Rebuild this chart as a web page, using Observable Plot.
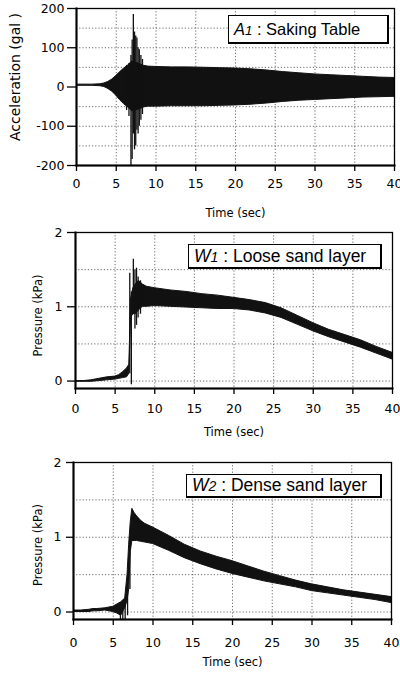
<!DOCTYPE html>
<html>
<head>
<meta charset="utf-8">
<script src="https://cdn.jsdelivr.net/npm/d3@7"></script>
<script src="https://cdn.jsdelivr.net/npm/@observablehq/plot@0.6"></script>
<style>
  html, body { margin: 0; padding: 0; background: #fff; }
  #root { width: 400px; }
  .panel { position: relative; width: 400px; }
  .panel svg { display: block; }
  .legend {
    position: absolute; box-sizing: border-box; background: #fff;
    border-style: solid; border-color: #000; border-width: 1.5px 2.5px 2.5px 1.5px;
    font-family: "Liberation Sans", Arial, sans-serif; font-size: 17.5px; color: #000;
    display: flex; align-items: center; padding-left: 5px; white-space: nowrap;
  }
  .legend i { font-style: italic; }
  .legend small { font-size: 0.8em; }
</style>
</head>
<body>
<div id="root"></div>
<script>
// ---------- shared axis values ----------
const xTicks = [0, 5, 10, 15, 20, 25, 30, 35, 40];
const xGrid = [5, 10, 15, 20, 25, 30, 35];

// ---------- A1 : shaking table acceleration (gal) ----------
const accTicks = [-200, -100, 0, 100, 200];
const accGrid = [-150, -100, -50, 50, 100, 150];
const accTime  = [0, 1, 2, 3, 3.5, 4, 4.5, 5, 5.5, 6, 6.5, 7, 7.5, 8, 8.5, 9, 10, 12, 14, 16, 18, 20, 22, 24, 26, 28, 30, 32, 34, 36, 38, 40];
const accUpper = [6, 6, 6, 7, 9, 13, 19, 28, 38, 47, 55, 65, 62, 58, 54, 52, 51, 50, 50, 49, 48, 47, 45, 42, 38, 35, 32, 30, 28, 26, 24, 23];
const accLower = [3, 3, 3, 2, 0, -5, -12, -22, -34, -44, -52, -62, -60, -56, -52, -50, -50, -49, -49, -49, -48, -47, -45, -42, -38, -35, -33, -31, -29, -27, -26, -25];
const accSpikeT  = [6.3, 6.6, 6.85, 7.0, 7.15, 7.3, 7.45, 7.6, 7.75, 7.9, 8.1, 8.3];
const accSpikeLo = [-60, -75, -200, -185, -120, -160, -150, -110, -120, -100, -85, -70];
const accSpikeHi = [55, 60, 80, 120, 185, 140, 130, 125, 100, 95, 80, 70];

// ---------- W1 : loose sand layer pressure (kPa) ----------
const presTicks = [0, 1, 2];
const presGrid = [0, 0.5, 1, 1.5];
const w1Time  = [0, 1, 2, 3, 4, 5, 5.5, 6, 6.5, 6.8, 7.0, 7.3, 7.6, 8, 8.5, 9, 10, 12, 14, 16, 18, 20, 22, 24, 26, 28, 30, 32, 34, 36, 38, 40];
const w1Upper = [0.0, 0.0, 0.01, 0.03, 0.05, 0.06, 0.08, 0.12, 0.17, 0.22, 1.1, 1.25, 1.3, 1.35, 1.3, 1.27, 1.25, 1.22, 1.2, 1.17, 1.15, 1.12, 1.09, 1.05, 0.98, 0.88, 0.78, 0.69, 0.62, 0.55, 0.46, 0.38];
const w1Lower = [-0.01, -0.01, -0.01, 0.0, 0.01, 0.02, 0.03, 0.04, 0.05, 0.1, 0.85, 0.9, 0.9, 0.95, 1.0, 1.0, 1.01, 1.0, 0.99, 0.98, 0.97, 0.97, 0.95, 0.91, 0.85, 0.76, 0.67, 0.59, 0.52, 0.45, 0.37, 0.29];
const w1SpikeT  = [6.85, 7.05, 7.3, 7.5, 7.7, 7.9, 8.2];
const w1SpikeLo = [0.1, -0.05, 0.9, 0.7, 0.75, 0.85, 0.9];
const w1SpikeHi = [1.45, 1.2, 1.64, 1.5, 1.52, 1.4, 1.35];

// ---------- W2 : dense sand layer pressure (kPa) ----------
const w2Time  = [0, 1, 2, 2.5, 3, 4, 5, 5.5, 6, 6.5, 6.8, 7.0, 7.2, 7.4, 7.7, 8, 8.5, 9, 10, 12, 14, 16, 18, 20, 22, 24, 26, 28, 30, 32, 34, 36, 38, 40];
const w2Upper = [0.02, 0.02, 0.03, 0.04, 0.04, 0.05, 0.07, 0.1, 0.13, 0.18, 0.5, 0.9, 1.2, 1.38, 1.32, 1.28, 1.22, 1.18, 1.13, 1.02, 0.9, 0.81, 0.74, 0.68, 0.61, 0.54, 0.48, 0.42, 0.37, 0.33, 0.29, 0.26, 0.23, 0.2];
const w2Lower = [0.0, 0.0, 0.0, 0.01, 0.01, 0.02, 0.0, -0.02, -0.05, 0.05, 0.15, 0.3, 0.8, 0.95, 0.95, 0.95, 0.94, 0.93, 0.91, 0.82, 0.72, 0.64, 0.57, 0.51, 0.46, 0.41, 0.37, 0.33, 0.28, 0.25, 0.22, 0.19, 0.16, 0.12];
const w2SpikeT  = [5.9, 6.2, 6.5, 6.8, 7.1];
const w2SpikeLo = [-0.1, -0.1, -0.1, -0.05, 0.3];
const w2SpikeHi = [0.05, 0.08, 0.12, 0.3, 1.0];

const ink = "#111";
const fmt = d => String(d);

function panel(o) {
  const svg = Plot.plot({
    width: 400,
    height: o.height,
    marginTop: o.mt, marginBottom: o.mb, marginLeft: o.ml, marginRight: o.mr,
    style: {fontFamily: "DejaVu Sans, sans-serif", fontSize: "12px", color: "#000", background: "#fff"},
    x: {domain: [0, 40]},
    y: {domain: o.yDomain},
    marks: [
      Plot.gridX(xGrid, {stroke: "#333", strokeOpacity: 0.9, strokeWidth: 0.8, strokeDasharray: "1.2,2"}),
      Plot.gridY(o.yGrid, {stroke: "#333", strokeOpacity: 0.9, strokeWidth: 0.8, strokeDasharray: "1.2,2"}),
      Plot.areaY(o.time, {x: o.time, y1: o.lower, y2: o.upper, fill: ink, stroke: ink, strokeWidth: 1, clip: true}),
      Plot.ruleX(o.spikeT, {x: o.spikeT, y1: o.spikeLo, y2: o.spikeHi, stroke: ink, strokeWidth: 1.3, clip: true}),
      Plot.frame({stroke: "#000", strokeWidth: 1.3}),
      Plot.frame({anchor: "left", stroke: "#000", strokeWidth: 2}),
      Plot.frame({anchor: "bottom", stroke: "#000", strokeWidth: 2}),
      Plot.axisX(xTicks, {tickSize: 6, tickPadding: o.xPad, tickFormat: fmt, fontSize: 12.5, label: null, strokeWidth: 1.3}),
      Plot.axisY(o.yTicks, {tickSize: o.yTickSize, tickPadding: o.yPad, tickFormat: fmt, fontSize: 12.5, label: null, strokeWidth: 1.3}),
      Plot.text(["Time (sec)"], {frameAnchor: "bottom", textAnchor: "middle", lineAnchor: "middle", dy: o.xLabelDy, fontSize: 11.5, fill: "#000"}),
      Plot.text([o.ylabel], {frameAnchor: "left", textAnchor: "middle", lineAnchor: "middle", rotate: -90, dx: o.yLabelDx, dy: o.yLabelDy, fontSize: o.yLabelSize, fill: "#000"})
    ]
  });
  const div = document.createElement("div");
  div.className = "panel";
  div.appendChild(svg);
  const lg = document.createElement("div");
  lg.className = "legend";
  lg.style.left = o.lg[0] + "px";
  lg.style.top = o.lg[1] + "px";
  lg.style.width = o.lg[2] + "px";
  lg.style.height = o.lg[3] + "px";
  lg.style.fontSize = o.lgSize + "px";
  lg.innerHTML = `<i>${o.tagLetter}<small>${o.tagNum}</small></i>&nbsp;: ${o.title}`;
  div.appendChild(lg);
  document.getElementById("root").appendChild(div);
}

panel({
  height: 226, mt: 8, mb: 61, ml: 76, mr: 6,
  yDomain: [-200, 200], yTicks: accTicks, yGrid: accGrid,
  time: accTime, upper: accUpper, lower: accLower,
  spikeT: accSpikeT, spikeLo: accSpikeLo, spikeHi: accSpikeHi,
  xPad: 8, yTickSize: 9, yPad: 3, xLabelDy: 48,
  ylabel: "Acceleration (gal )", yLabelDx: -61, yLabelDy: -10, yLabelSize: 14,
  tagLetter: "A", tagNum: "1", title: "Saking Table", lg: [228, 15, 161, 29], lgSize: 16.5
});
panel({
  height: 224, mt: 6, mb: 62, ml: 75, mr: 8,
  yDomain: [-0.1, 2], yTicks: presTicks, yGrid: presGrid,
  time: w1Time, upper: w1Upper, lower: w1Lower,
  spikeT: w1SpikeT, spikeLo: w1SpikeLo, spikeHi: w1SpikeHi,
  xPad: 10, yTickSize: 8, yPad: 5, xLabelDy: 44,
  ylabel: "Pressure (kPa)", yLabelDx: -37, yLabelDy: 5, yLabelSize: 11.5,
  tagLetter: "W", tagNum: "1", title: "Loose sand layer", lg: [188, 18, 194, 25], lgSize: 17.5
});
panel({
  height: 223, mt: 12, mb: 54, ml: 73, mr: 9,
  yDomain: [-0.1, 2], yTicks: presTicks, yGrid: presGrid,
  time: w2Time, upper: w2Upper, lower: w2Lower,
  spikeT: w2SpikeT, spikeLo: w2SpikeLo, spikeHi: w2SpikeHi,
  xPad: 13, yTickSize: 7, yPad: 5, xLabelDy: 43,
  ylabel: "Pressure (kPa)", yLabelDx: -35, yLabelDy: 4, yLabelSize: 11.5,
  tagLetter: "W", tagNum: "2", title: "Dense sand layer", lg: [186, 24, 196, 24], lgSize: 17.5
});
</script>
</body>
</html>
